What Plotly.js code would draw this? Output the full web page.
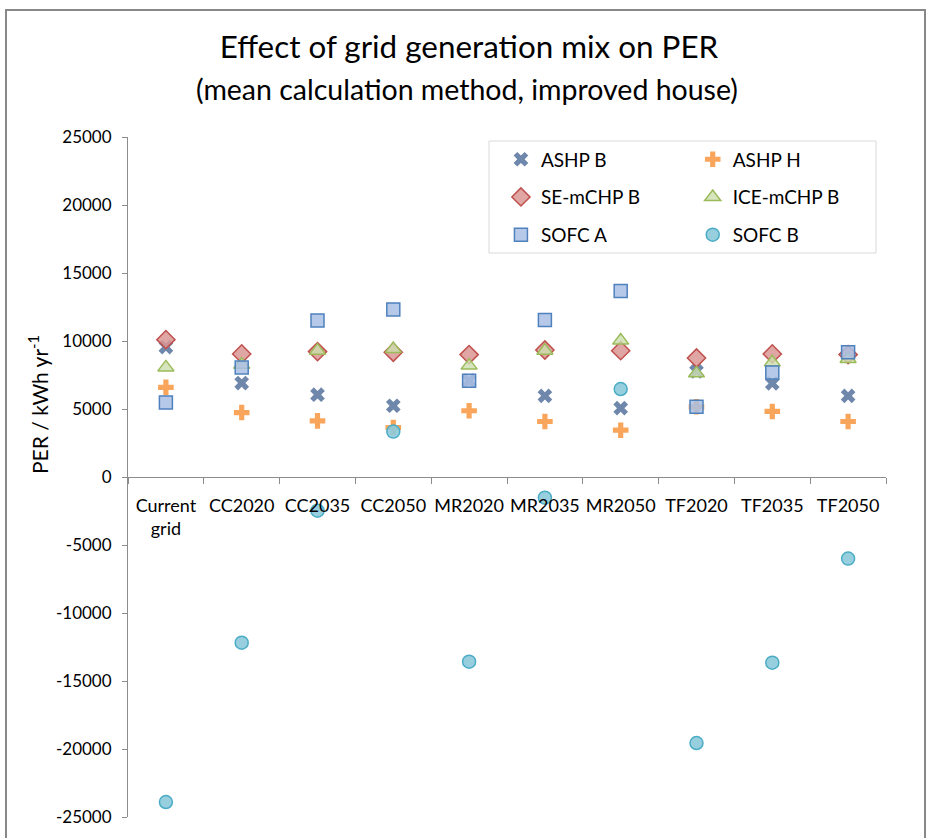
<!DOCTYPE html>
<html>
<head>
<meta charset="utf-8">
<script src="https://cdn.plot.ly/plotly-3.0.1.min.js"></script>
<style>html,body{margin:0;padding:0;background:#fff;}#chart{width:931px;height:838px;}</style>
</head>
<body>
<div id="chart"></div>
<script>
// Categories (grid scenarios) and tick labels
const categories = ['Current grid', 'CC2020', 'CC2035', 'CC2050', 'MR2020', 'MR2035', 'MR2050', 'TF2020', 'TF2035', 'TF2050'];
const tickLabels = ['Current<br>grid', 'CC2020', 'CC2035', 'CC2050', 'MR2020', 'MR2035', 'MR2050', 'TF2020', 'TF2035', 'TF2050'];
const yTickVals = [-25000, -20000, -15000, -10000, -5000, 0, 5000, 10000, 15000, 20000, 25000];
const yTickText = ['-25000', '-20000', '-15000', '-10000', '-5000', '0', '5000', '10000', '15000', '20000', '25000'];

// Series values (PER / kWh yr-1)
const ashpB  = [9550, 6910, 6050, 5240, 7080, 5970, 5060, 7770, 6880, 5970];
const ashpH  = [6590, 4740, 4130, 3640, 4870, 4080, 3440, 5160, 4820, 4080];
const seMchpB = [10100, 9050, 9220, 9170, 9000, 9340, 9290, 8750, 9050, 9000];
const iceMchpB = [8060, 8260, 9290, 9420, 8190, 9290, 10030, 7620, 8430, 8680];
const sofcA  = [5480, 8060, 11500, 12320, 7080, 11550, 13670, 5160, 7690, 9170];
const sofcB  = [-23900, -12180, -2480, 3340, -13580, -1520, 6470, -19560, -13650, -6000];

const FONT = 'Lato, "Open Sans", sans-serif';

function tr(name, y, symbol, size, fill, line, lw, legend, group) {
  return {
    type: 'scatter', mode: 'markers', name: name,
    x: categories, y: y,
    legend: legend, legendgroup: group,
    marker: {symbol: symbol, size: size, color: fill, line: {color: line, width: lw}},
    hoverinfo: 'x+y+name'
  };
}

const data = [
  tr('ASHP B', ashpB, 'x', 13, '#6F87AB', '#6F87AB', 0, 'legend', 'g1'),
  tr('ASHP H', ashpH, 'cross', 13, '#F9A65C', '#F9A65C', 0, 'legend2', 'g2'),
  tr('SE-mCHP B', seMchpB, 'diamond', 14, 'rgba(217,150,148,0.85)', '#C0504D', 1.5, 'legend', 'g3'),
  tr('ICE-mCHP B', iceMchpB, 'triangle-up', 14, 'rgba(205,222,175,0.8)', '#9BBB59', 1.5, 'legend2', 'g4'),
  tr('SOFC A', sofcA, 'square', 13, 'rgba(170,192,228,0.85)', '#4F81BD', 1.5, 'legend', 'g5'),
  tr('SOFC B', sofcB, 'circle', 13, 'rgba(140,202,220,0.9)', '#4BACC6', 1.5, 'legend2', 'g6')
];

const legendCommon = {
  orientation: 'v', bgcolor: 'rgba(0,0,0,0)', borderwidth: 0,
  font: {family: FONT, size: 19, color: '#000'},
  tracegroupgap: 10, xanchor: 'left', yanchor: 'top', y: 0.995
};

const layout = {
  width: 931, height: 838,
  margin: {l: 128, r: 45, t: 137, b: 21},
  paper_bgcolor: '#fff', plot_bgcolor: 'rgba(0,0,0,0)',
  font: {family: FONT, color: '#000'},
  showlegend: true,
  title: {
    text: 'Effect of grid generation mix on PER',
    font: {family: FONT, size: 31.4, color: '#000'},
    x: 469 / 931, xref: 'container', xanchor: 'center',
    y: 1 - 47 / 838, yref: 'container', yanchor: 'middle'
  },
  xaxis: {
    type: 'category', anchor: 'free', position: 0.5,
    range: [-0.5, categories.length - 0.5], autorange: false,
    tickmode: 'array', tickvals: categories, ticktext: tickLabels,
    tickson: 'boundaries', ticks: 'outside', ticklen: 6, tickcolor: '#8c8c8c',
    ticklabelstandoff: 12,
    showline: true, linecolor: '#8c8c8c', linewidth: 1,
    showgrid: false, zeroline: false,
    tickfont: {family: FONT, size: 18, color: '#000'},
    tickangle: 0, fixedrange: true
  },
  yaxis: {
    range: [-25000, 25000], autorange: false, tickmode: 'array', tickvals: yTickVals, ticktext: yTickText,
    ticks: 'outside', ticklen: 5, tickcolor: '#8c8c8c',
    showline: true, linecolor: '#8c8c8c', linewidth: 1,
    showgrid: false, zeroline: false,
    tickfont: {family: FONT, size: 17, color: '#000'},
    ticklabelstandoff: 7
  },
  legend: Object.assign({}, legendCommon, {x: 0.492}),
  legend2: Object.assign({}, legendCommon, {x: 0.745}),
  annotations: [
    {text: '(mean calculation method, improved house)', xref: 'paper', yref: 'paper',
     x: (467 - 128) / 758, y: (817 - 89) / 680, xanchor: 'center', yanchor: 'middle',
     showarrow: false, font: {family: FONT, size: 28.5, color: '#000'}},
    {text: 'PER / kWh yr<sup>-1</sup>', xref: 'paper', yref: 'paper',
     x: (38 - 128) / 758, y: (817 - 405) / 680, xanchor: 'center', yanchor: 'middle',
     textangle: -90, showarrow: false, font: {family: FONT, size: 21, color: '#000'}}
  ],
  shapes: [
    {type: 'rect', xref: 'paper', yref: 'paper', layer: 'below',
     x0: (489 - 128) / 758, x1: (876 - 128) / 758, y0: (817 - 253) / 680, y1: (817 - 141) / 680,
     line: {color: '#d9d9d9', width: 1}, fillcolor: '#fff'},
    {type: 'rect', xref: 'paper', yref: 'paper', layer: 'above',
     x0: (6 - 128) / 758, x1: (925 - 128) / 758, y0: -0.2, y1: (817 - 10) / 680,
     line: {color: '#888888', width: 2}, fillcolor: 'rgba(0,0,0,0)'}
  ]
};

Plotly.newPlot('chart', data, layout, {displayModeBar: false, staticPlot: true});
</script>
</body>
</html>
